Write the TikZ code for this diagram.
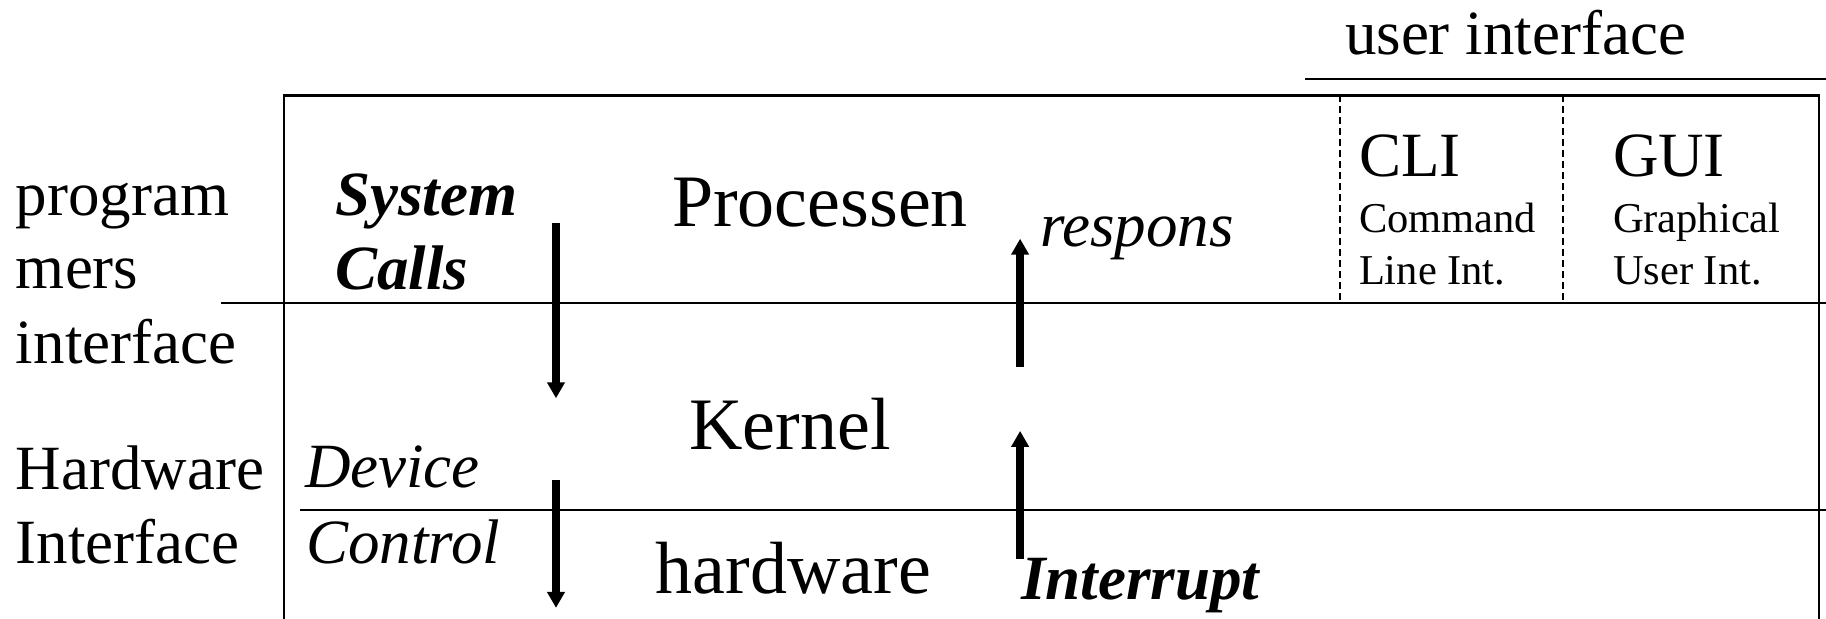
\documentclass[tikz,border=0pt]{standalone}
\usepackage{fontspec}
\setmainfont{Liberation Serif}
\usetikzlibrary{arrows.meta}
\tikzset{
  lbl/.style={inner sep=0pt, outer sep=0pt, anchor=base west},
  mid/.style={lbl, font=\fontsize{31.5}{36}\selectfont},
  big/.style={lbl, font=\fontsize{37}{42}\selectfont},
  small/.style={lbl, font=\fontsize{21.25}{25}\selectfont},
  emph/.style={lbl, font=\fontsize{31.5}{36}\selectfont\itshape},
  strong/.style={lbl, font=\fontsize{31.5}{36}\selectfont\bfseries\itshape},
  frame/.style={line width=1.25pt},
  divider/.style={line width=1pt, dash pattern=on 3.5pt off 2pt},
  flow/.style={line width=4pt, -{Triangle[width=8.5pt,length=8pt]}},
}
\begin{document}
\begin{tikzpicture}[x=0.5pt,y=-0.5pt]
\useasboundingbox (0,0) rectangle (1826,619);

% frame of the layered model
\draw[frame] (284,619) -- (284,95.5) -- (1819,95.5) -- (1819,619);
\draw[frame] (1305,79) -- (1826,79);
\draw[frame] (221,302.8) -- (1826,302.8);
\draw[frame] (300,510) -- (1826,510);
\draw[divider] (1340,95.5) -- (1340,302.8);
\draw[divider] (1563,95.5) -- (1563,302.8);

% labels
\node[mid] (ui) at (1345,54.7) {user interface};
\node[mid] (pi1) at (16,215.4) {program};
\node[mid] (pi2) at (16,288.8) {mers};
\node[mid] (pi3) at (16,363.3) {interface};
\node[mid] (hi1) at (16,489.1) {Hardware};
\node[mid] (hi2) at (16,563.6) {Interface};
\node[strong] (sc1) at (335.4,215.4) {System};
\node[strong] (sc2) at (335.4,290) {Calls};
\node[big] (proc) at (672,227) {Processen};
\node[emph] (resp) at (1040,246.9) {respons};
\node[mid] (cli) at (1359,177) {CLI};
\node[small] (cli1) at (1359,232.9) {Command};
\node[small] (cli2) at (1359,284.1) {Line Int.};
\node[mid] (gui) at (1613,177) {GUI};
\node[small] (gui1) at (1613,232.9) {Graphical};
\node[small] (gui2) at (1613,284.1) {User Int.};
\node[big] (kern) at (689.4,449.5) {Kernel};
\node[emph] (dev1) at (305,487.9) {Device};
\node[emph] (dev2) at (306.3,563.6) {Control};
\node[big] (hw) at (655.6,594) {hardware};
\node[strong] (irq) at (1021.3,599.7) {Interrupt};

% calls going down, responses coming up
\coordinate (d1a) at (556,223);
\coordinate (d1b) at (556,398.3);
\coordinate (d2a) at (556,479.8);
\coordinate (d2b) at (556,607.9);
\coordinate (u1a) at (1020.1,366.8);
\coordinate (u1b) at (1020.1,238.7);
\coordinate (u2a) at (1020.1,559);
\coordinate (u2b) at (1020.1,430.9);
\draw[flow] (d1a) -- (d1b);
\draw[flow] (d2a) -- (d2b);
\draw[flow] (u1a) -- (u1b);
\draw[flow] (u2a) -- (u2b);
\end{tikzpicture}
\end{document}
